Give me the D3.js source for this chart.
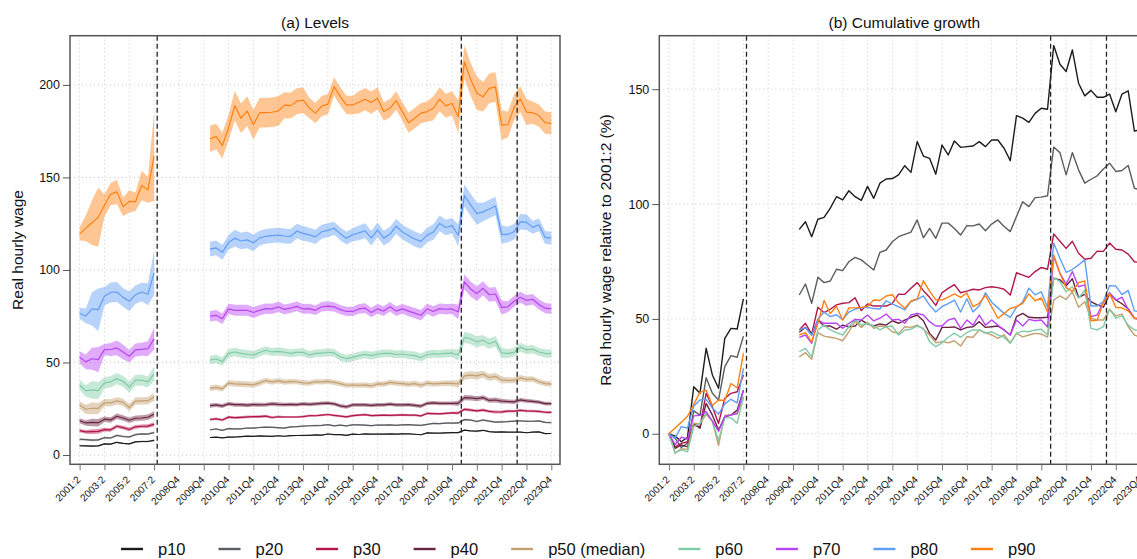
<!DOCTYPE html>
<html>
<head>
<meta charset="utf-8">
<script src="https://cdn.jsdelivr.net/npm/d3@7"></script>
<style>
  html, body { margin: 0; padding: 0; background: #ffffff; }
  svg { display: block; }
</style>
</head>
<body>
<svg id="chart" width="1137" height="559"></svg>
<script>
// ---------------------------------------------------------------------------
// Periods: semesters 2001:2 - 2007:2, then quarters 2008Q1 - 2023Q4
// ---------------------------------------------------------------------------
const earlyPeriods = ["2001:2", "2002:1", "2002:2", "2003:1", "2003:2", "2004:1", "2004:2",
                      "2005:1", "2005:2", "2006:1", "2006:2", "2007:1", "2007:2"];
const quarterPeriods = [];
for (let yr = 2008; yr <= 2023; yr++) for (let q = 1; q <= 4; q++) quarterPeriods.push(yr + "Q" + q);
const axisPeriods = earlyPeriods.concat(quarterPeriods);
const latePeriods = quarterPeriods.filter(p => +p.slice(0, 4) >= 2010);

const tickLabels = ["2001:2", "2003:2", "2005:2", "2007:2", "2008Q4", "2009Q4", "2010Q4", "2011Q4",
                    "2012Q4", "2013Q4", "2014Q4", "2015Q4", "2016Q4", "2017Q4", "2018Q4", "2019Q4",
                    "2020Q4", "2021Q4", "2022Q4", "2023Q4"];
const breakAfter = ["2007:2", "2020Q1", "2022Q2"];

const levelTicks = [0, 50, 100, 150, 200];
const growthTicks = [0, 50, 100, 150];

// ---------------------------------------------------------------------------
// Percentiles
// ---------------------------------------------------------------------------
const seriesNames  = ["p10", "p20", "p30", "p40", "p50", "p60", "p70", "p80", "p90"];
const legendLabels = ["p10", "p20", "p30", "p40", "p50 (median)", "p60", "p70", "p80", "p90"];
const seriesColors = ["#1c1c1c", "#5a5d60", "#b3164c", "#6a2341", "#c3a070",
                      "#80cba6", "#b944f3", "#609ef6", "#ff8010"];

// real hourly wage in 2001:2
const baseLevel = [5.0, 8.5, 13.2, 18.5, 27.0, 37.8, 52.8, 76.6, 119.5];

// cumulative growth relative to 2001:2 (%) - semesters 2001:2 .. 2007:2
const p10Early = [0, -1.0, -3.5, -1.5, 20.5, 17.6, 37.2, 25.6, 19.8, 41.5, 45.9, 45.6, 58.7];
const p20Early = [0, -2.0, -6.0, -4.0, 10.0, 8.0, 24.4, 17.6, 14.7, 29.2, 34.0, 33.3, 42.5];
const p30Early = [0, -5.7, -4.2, -3.5, 3.8, 3.0, 17.6, 11.8, 4.5, 15.4, 17.6, 18.3, 25.6];
const p40Early = [0, -6.4, -4.9, -5.7, 4.5, 2.4, 13.2, 8.1, 1.6, 7.4, 8.1, 10.3, 19.0];
const p50Early = [0, -8.5, -6.5, -6.8, 4.6, 4.3, 8.4, 5.4, -5.1, 8.0, 8.3, 8.7, 16.0];
const p60Early = [0, -8.3, -7.0, -7.9, 3.1, 4.6, 9.2, 5.4, -3.0, 6.9, 6.9, 4.6, 16.0];
const p70Early = [0, -4.7, -1.5, -2.4, 7.8, 8.0, 9.6, 5.5, 1.1, 7.5, 8.2, 8.8, 18.9];
const p80Early = [0, -1.9, 3.1, 2.5, 12.0, 14.7, 15.0, 11.2, 8.5, 13.0, 15.0, 13.4, 28.5];
const p90Early = [0, 2.5, 5.0, 7.6, 12.8, 18.0, 19.0, 12.3, 14.7, 14.5, 21.9, 19.9, 35.0];

// cumulative growth relative to 2001:2 (%) - quarters 2010Q1 .. 2023Q4 (one row per year)
const p10Late = [
  89.0, 92.3, 85.8, 93.4,   94.2, 98.2, 103.2, 101.8,   105.8, 103.2, 101.6, 107.7,
  102.5, 109.1, 110.9, 111.1,   112.7, 116.7, 113.8, 127.2,   120.9, 119.9, 113.0, 125.7,
  121.4, 127.5, 124.7, 125.0,   125.3, 127.2, 125.0, 127.9,   127.9, 124.3, 118.9, 138.5,
  137.4, 135.6, 139.5, 141.7,   141.3, 169.0, 160.9, 157.7,   167.1, 152.6, 147.1, 149.5,
  146.5, 146.5, 147.9, 140.2,   147.9, 149.3, 131.8, 132.3];
const p20Late = [
  60.4, 65.2, 56.8, 68.1,   65.8, 66.5, 71.6, 71.0,   74.9, 76.8, 75.7, 73.5,
  71.3, 79.0, 80.0, 83.6,   85.8, 86.8, 87.8, 93.1,   85.3, 89.4, 85.1, 91.7,
  91.7, 89.4, 86.5, 90.6,   90.5, 91.3, 88.4, 91.3,   93.1, 90.2, 88.0, 94.6,
  101.0, 98.9, 102.8, 103.0,   103.6, 124.8, 122.4, 112.7,   122.4, 114.9, 109.1, 110.8,
  112.3, 115.3, 117.8, 114.2,   114.6, 116.8, 106.9, 106.0];
const p30Late = [
  45.2, 48.1, 43.4, 55.1,   52.7, 54.2, 56.1, 56.8,   57.1, 59.2, 53.6, 56.5,
  55.6, 55.6, 55.6, 56.8,   60.8, 60.7, 63.3, 65.8,   62.3, 59.4, 55.9, 61.4,
  63.3, 64.9, 61.4, 62.1,   62.9, 62.6, 63.6, 64.0,   63.6, 62.9, 60.4, 70.1,
  69.1, 68.1, 70.6, 72.4,   71.6, 87.0, 83.8, 80.7,   83.8, 78.6, 76.0, 76.4,
  79.5, 79.4, 83.0, 80.3,   80.0, 78.2, 74.9, 74.5];
const p40Late = [
  44.2, 46.3, 43.0, 49.5,   46.9, 46.9, 45.5, 47.3,   46.6, 46.9, 49.5, 47.8,
  46.9, 47.8, 47.3, 49.2,   48.1, 49.5, 50.7, 51.7,   49.2, 43.7, 40.8, 46.3,
  46.3, 46.5, 45.2, 46.3,   46.6, 48.8, 46.3, 46.6,   46.9, 45.2, 43.0, 51.0,
  52.4, 50.7, 50.5, 50.5,   50.7, 67.7, 67.0, 64.4,   67.5, 59.4, 60.7, 57.5,
  56.1, 55.1, 60.8, 58.3,   56.6, 54.4, 50.3, 50.0];
const p50Late = [
  33.5, 35.3, 32.4, 44.0,   42.5, 42.0, 41.5, 40.5,   44.4, 49.0, 46.3, 48.5,
  45.9, 46.9, 46.6, 44.4,   43.7, 46.6, 46.3, 47.3,   45.5, 43.0, 39.6, 40.1,
  39.6, 40.5, 38.2, 42.2,   42.0, 45.2, 44.0, 43.0,   41.5, 43.0, 39.6, 43.7,
  42.2, 43.0, 43.7, 43.4,   42.1, 58.2, 60.0, 58.5,   61.8, 55.1, 57.5, 50.3,
  49.5, 49.5, 54.2, 51.3,   52.1, 46.6, 43.0, 42.0];
const p60Late = [
  35.7, 37.2, 33.5, 45.2,   47.3, 45.2, 44.0, 43.0,   46.6, 49.8, 47.3, 48.1,
  46.9, 45.2, 46.6, 46.9,   43.0, 45.2, 45.5, 46.9,   45.9, 40.1, 37.9, 39.6,
  42.0, 43.8, 42.0, 44.0,   45.2, 45.2, 43.7, 44.4,   43.0, 42.0, 39.4, 43.7,
  44.7, 44.4, 45.2, 45.5,   43.0, 68.1, 66.2, 61.8,   64.0, 59.0, 62.6, 45.9,
  45.2, 46.6, 54.2, 50.3,   51.3, 47.3, 45.2, 45.0];
const p70Late = [
  42.0, 43.0, 39.4, 49.5,   48.1, 48.1, 48.1, 45.9,   48.1, 49.8, 49.5, 51.7,
  49.1, 50.3, 52.1, 49.5,   49.8, 48.1, 51.7, 52.4,   51.7, 48.8, 46.9, 46.9,
  49.5, 50.3, 45.9, 49.5,   47.3, 51.7, 47.3, 49.5,   47.3, 45.2, 43.0, 49.5,
  46.9, 49.8, 49.2, 49.5,   46.5, 77.1, 69.9, 65.2,   70.6, 64.0, 64.8, 51.0,
  51.7, 57.3, 61.4, 58.2,   59.4, 54.1, 50.3, 49.5];
const p80Late = [
  45.3, 46.1, 43.0, 50.0,   53.0, 51.0, 51.8, 49.7,   53.0, 54.3, 54.8, 55.1,
  54.5, 54.3, 57.9, 56.4,   55.3, 53.9, 57.5, 58.5,   60.0, 56.0, 53.0, 55.4,
  56.7, 58.2, 53.0, 58.8,   53.0, 55.7, 61.4, 57.3,   54.8, 52.4, 50.7, 55.1,
  57.3, 63.4, 60.5, 61.8,   55.0, 83.0, 76.4, 70.3,   71.5, 73.5, 75.7, 55.6,
  55.6, 57.5, 64.5, 64.3,   60.6, 62.4, 53.5, 53.0];
const p90Late = [
  43.0, 44.0, 40.0, 48.0,   58.0, 52.3, 55.5, 49.4,   54.8, 54.8, 55.0, 55.5,
  58.2, 58.0, 60.0, 60.5,   57.0, 54.6, 57.8, 58.7,   66.6, 62.1, 58.3, 58.3,
  59.5, 60.9, 59.4, 61.3,   55.3, 56.8, 60.3, 55.3,   50.3, 52.3, 54.6, 55.3,
  56.8, 60.9, 57.9, 59.1,   53.0, 77.8, 69.9, 63.6,   62.0, 65.8, 66.5, 49.2,
  49.4, 57.2, 61.0, 55.1,   54.8, 53.5, 50.3, 50.0];

// confidence band half-widths for the levels: per semester, then per year 2010..2023
const p10BandEarly = [0.35, 0.35, 0.4, 0.4, 0.35, 0.35, 0.35, 0.35, 0.35, 0.35, 0.35, 0.35, 0.4];
const p10BandLate  = [0.3, 0.3, 0.3, 0.3, 0.3, 0.3, 0.3, 0.3, 0.3, 0.3, 0.35, 0.35, 0.3, 0.3];
const p20BandEarly = [0.5, 0.5, 0.6, 0.6, 0.5, 0.5, 0.5, 0.5, 0.5, 0.5, 0.5, 0.5, 0.6];
const p20BandLate  = [0.4, 0.4, 0.4, 0.4, 0.4, 0.4, 0.4, 0.4, 0.4, 0.4, 0.5, 0.5, 0.4, 0.4];
const p30BandEarly = [0.9, 1.0, 1.3, 1.3, 1.0, 1.0, 1.0, 1.0, 1.0, 1.0, 1.0, 1.0, 1.1];
const p30BandLate  = [0.7, 0.7, 0.7, 0.6, 0.6, 0.6, 0.6, 0.6, 0.6, 0.6, 0.8, 0.8, 0.7, 0.7];
const p40BandEarly = [1.3, 1.5, 2.0, 2.0, 1.5, 1.5, 1.5, 1.5, 1.5, 1.5, 1.5, 1.5, 1.6];
const p40BandLate  = [1.1, 1.1, 1.1, 1.0, 1.0, 1.0, 1.0, 1.0, 1.0, 1.0, 1.4, 1.3, 1.1, 1.0];
const p50BandEarly = [2.0, 2.5, 3.2, 3.0, 2.0, 2.0, 2.0, 2.0, 2.0, 2.0, 2.0, 2.0, 2.2];
const p50BandLate  = [1.5, 1.6, 1.5, 1.4, 1.4, 1.4, 1.4, 1.4, 1.5, 1.5, 2.0, 1.9, 1.6, 1.5];
const p60BandEarly = [2.7, 3.0, 4.8, 4.5, 3.0, 3.0, 3.0, 3.0, 3.0, 3.0, 3.0, 3.0, 3.8];
const p60BandLate  = [2.3, 2.3, 2.2, 2.1, 2.1, 2.1, 2.1, 2.1, 2.2, 2.2, 3.0, 2.8, 2.4, 2.2];
const p70BandEarly = [3.2, 4.0, 5.9, 6.8, 3.0, 3.5, 4.0, 4.0, 3.4, 3.5, 3.5, 4.0, 5.9];
const p70BandLate  = [2.8, 3.0, 2.8, 2.6, 2.6, 2.5, 2.6, 2.6, 2.8, 2.8, 4.0, 3.8, 3.0, 2.8];
const p80BandEarly = [3.0, 4.0, 9.0, 11.5, 5.0, 5.4, 5.4, 5.0, 5.4, 5.0, 5.0, 6.0, 12.0];
const p80BandLate  = [4.0, 4.5, 4.0, 4.0, 3.8, 3.5, 4.0, 4.0, 4.0, 4.2, 6.0, 5.0, 4.2, 3.5];
const p90BandEarly = [3.5, 7.0, 12.0, 16.0, 6.0, 6.0, 6.5, 5.0, 6.0, 5.0, 8.0, 7.0, 24.0];
const p90BandLate  = [7.0, 8.0, 8.0, 7.0, 5.5, 5.0, 6.0, 5.0, 5.5, 6.5, 9.0, 8.0, 7.0, 6.0];

const growthEarly = [p10Early, p20Early, p30Early, p40Early, p50Early, p60Early, p70Early, p80Early, p90Early];
const growthLate  = [p10Late, p20Late, p30Late, p40Late, p50Late, p60Late, p70Late, p80Late, p90Late];
const bandEarly   = [p10BandEarly, p20BandEarly, p30BandEarly, p40BandEarly, p50BandEarly,
                     p60BandEarly, p70BandEarly, p80BandEarly, p90BandEarly];
const bandLate    = [p10BandLate, p20BandLate, p30BandLate, p40BandLate, p50BandLate,
                     p60BandLate, p70BandLate, p80BandLate, p90BandLate];

// ---------------------------------------------------------------------------
// Build series: each has two segments (semesters / quarters) drawn separately
// ---------------------------------------------------------------------------
const periodIndex = new Map(axisPeriods.map((p, i) => [p, i]));
const series = seriesNames.map((name, s) => {
  const toPoint = (period, g, half) => {
    const level = baseLevel[s] * (1 + g / 100);
    return { idx: periodIndex.get(period), growth: g, level: level, lo: level - half, hi: level + half };
  };
  const early = earlyPeriods.map((p, k) => toPoint(p, growthEarly[s][k], bandEarly[s][k]));
  const late = latePeriods.map((p, k) => toPoint(p, growthLate[s][k], bandLate[s][Math.floor(k / 4)]));
  return { name, color: seriesColors[s], segments: [early, late] };
});

// ---------------------------------------------------------------------------
// Layout
// ---------------------------------------------------------------------------
const FONT = '"Liberation Sans", Arial, Helvetica, sans-serif';
const svg = d3.select("#chart").attr("font-family", FONT);
svg.append("rect").attr("width", 1137).attr("height", 559).attr("fill", "#ffffff");

const plotTop = 35.7, plotBottom = 464.3, plotWidth = 490;
const panels = [
  { left: 70, title: "(a) Levels", ylabel: "Real hourly wage", labelX: 18,
    yDomain: [-5.03, 226.6], yTicks: levelTicks, mode: "level" },
  { left: 659.3, title: "(b) Cumulative growth", ylabel: "Real hourly wage relative to 2001:2 (%)", labelX: 606,
    yDomain: [-13.3, 173.3], yTicks: growthTicks, mode: "growth" }
];

panels.forEach(p => {
  const x = d3.scaleLinear().domain([-1.55, 77.4]).range([p.left, p.left + plotWidth]);
  const y = d3.scaleLinear().domain(p.yDomain).range([plotBottom, plotTop]);
  const g = svg.append("g");
  const tickIdx = tickLabels.map(t => periodIndex.get(t));

  // dotted grid
  const grid = g.append("g").attr("stroke", "#c9c9c9").attr("stroke-width", 1).attr("stroke-dasharray", "1,3");
  grid.selectAll("line.v").data(tickIdx).join("line").attr("class", "v")
    .attr("x1", d => x(d)).attr("x2", d => x(d)).attr("y1", plotTop).attr("y2", plotBottom);
  grid.selectAll("line.h").data(p.yTicks).join("line").attr("class", "h")
    .attr("x1", p.left).attr("x2", p.left + plotWidth).attr("y1", d => y(d)).attr("y2", d => y(d));

  // series
  const valueKey = p.mode === "level" ? "level" : "growth";
  const line = d3.line().x(d => x(d.idx)).y(d => y(d[valueKey]));
  const area = d3.area().x(d => x(d.idx)).y0(d => y(d.lo)).y1(d => y(d.hi));
  const marks = g.append("g");
  series.forEach(s => {
    s.segments.forEach(seg => {
      if (p.mode === "level") {
        marks.append("path").attr("d", area(seg)).attr("fill", s.color).attr("fill-opacity", 0.45).attr("stroke", "none");
      }
    });
    s.segments.forEach(seg => {
      marks.append("path").attr("d", line(seg)).attr("fill", "none").attr("stroke", s.color)
        .attr("stroke-width", p.mode === "level" ? 1.2 : 1.4).attr("stroke-linejoin", "round");
    });
  });

  // period breaks
  g.append("g").selectAll("line").data(breakAfter).join("line")
    .attr("x1", d => x(periodIndex.get(d) + 0.5)).attr("x2", d => x(periodIndex.get(d) + 0.5))
    .attr("y1", plotTop).attr("y2", plotBottom)
    .attr("stroke", "#222").attr("stroke-width", 1.3).attr("stroke-dasharray", "5,3");

  // frame
  g.append("rect").attr("x", p.left).attr("y", plotTop).attr("width", plotWidth).attr("height", plotBottom - plotTop)
    .attr("fill", "none").attr("stroke", "#555").attr("stroke-width", 1.5);

  // y axis
  const yAxis = g.append("g").attr("transform", `translate(${p.left},0)`)
    .call(d3.axisLeft(y).tickValues(p.yTicks).tickSize(7).tickPadding(3).tickFormat(d3.format("d")));
  yAxis.select(".domain").remove();
  yAxis.selectAll(".tick line").attr("stroke", "#555");
  yAxis.selectAll(".tick text").attr("font-size", 12.5).attr("fill", "#111").attr("font-family", FONT);

  // x axis
  const xAxis = g.append("g").attr("transform", `translate(0,${plotBottom})`)
    .call(d3.axisBottom(x).tickValues(tickIdx).tickSize(6).tickFormat(i => axisPeriods[i]));
  xAxis.select(".domain").remove();
  xAxis.selectAll(".tick line").attr("stroke", "#777");
  xAxis.selectAll(".tick text")
    .attr("font-size", 10).attr("fill", "#111").attr("font-family", FONT)
    .attr("text-anchor", "end").attr("y", 0).attr("dy", 0)
    .attr("transform", "translate(1,16) rotate(-45)");

  // titles
  g.append("text").attr("x", p.left + plotWidth / 2).attr("y", 28).attr("text-anchor", "middle")
    .attr("font-size", 15.5).attr("fill", "#111").text(p.title);
  g.append("text").attr("transform", `translate(${p.labelX},${(plotTop + plotBottom) / 2}) rotate(-90)`)
    .attr("text-anchor", "middle").attr("dy", "0.35em").attr("font-size", 15.5).attr("fill", "#111").text(p.ylabel);
});

// ---------------------------------------------------------------------------
// Legend
// ---------------------------------------------------------------------------
const legend = svg.append("g").attr("transform", "translate(0,549)");
let cursor = 121;
legendLabels.forEach((label, s) => {
  const item = legend.append("g");
  item.append("line").attr("x1", cursor).attr("x2", cursor + 22).attr("y1", 0).attr("y2", 0)
    .attr("stroke", seriesColors[s]).attr("stroke-width", 2.4);
  const t = item.append("text").attr("x", cursor + 37).attr("y", 0).attr("dy", "0.35em")
    .attr("font-size", 16.5).attr("fill", "#111").text(label);
  cursor += 37 + t.node().getComputedTextLength() + 33;
});
</script>
</body>
</html>
